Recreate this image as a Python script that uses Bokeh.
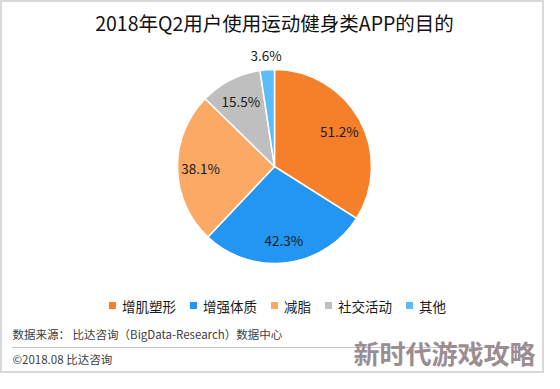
import math
from bokeh.plotting import figure
from bokeh.models import Range1d, ColumnDataSource
from bokeh.core.properties import value
from bokeh.embed import file_html
from bokeh.resources import INLINE

# ---- data ----
categories = ["增肌塑形", "增强体质", "减脂", "社交活动", "其他"]
values = [51.2, 42.3, 38.1, 15.5, 3.6]
colors = ["#F67F2A", "#2395F3", "#FBA964", "#BFBFBF", "#5DBBF7"]
title_text = "2018年Q2用户使用运动健身类APP的目的"
source_text = "数据来源： 比达咨询（BigData-Research）数据中心"
copyright_text = "©2018.08  比达咨询"
watermark_text = "新时代游戏攻略"

FONT = "Noto Sans CJK SC"
H = 389  # reference height; data y = H - page y

p = figure(width=544, height=373, output_backend="svg", toolbar_location=None,
           x_range=Range1d(8, 552), y_range=Range1d(8, 381), min_border=0)
p.axis.visible = False
p.grid.visible = False
p.outline_line_color = "#D9D9D9"
p.outline_line_width = 3
p.background_fill_color = "white"
p.border_fill_color = "white"

# ---- pie ----
cx, cy, R = 282, H - 174, 97
total = sum(values)
starts, ends, lx, ly, labels = [], [], [], [], []
cum = 0.0
for v in values:
    frac = v / total * 2 * math.pi
    s = math.pi / 2 - cum
    e = math.pi / 2 - cum - frac
    starts.append(s)
    ends.append(e)
    mid = math.pi / 2 - cum - frac / 2
    r = 74 if v / total > 0.05 else 112
    lx.append(cx + r * math.cos(mid))
    ly.append(cy + r * math.sin(mid))
    labels.append(f"{v:.1f}%")
    cum += frac

src = ColumnDataSource(dict(start=starts, end=ends, color=colors,
                            lx=lx, ly=ly, label=labels))
p.wedge(x=cx, y=cy, radius=R, start_angle="start", end_angle="end",
        direction="clock", fill_color="color", line_color="white",
        line_width=1.5, source=src)
p.text(x="lx", y="ly", text="label", source=src, text_align="center",
       text_baseline="middle", text_font=value(FONT),
       text_font_size="13.5px", text_color="#1a1a1a")

# ---- title ----
p.text(x=[282], y=[H - 30], text=[title_text], text_align="center",
       text_baseline="middle", text_font=value(FONT),
       text_font_size="19.5px", text_color="#111111")

# ---- legend ----
fs = 13.5
sq = 7
widths = [13 + len(c) * fs for c in categories]
tot_w = sum(widths) + 14 * (len(categories) - 1)
x0 = 285 - tot_w / 2
leg_y = H - 313
sqx, txx = [], []
x = x0
for w in widths:
    sqx.append(x + sq / 2)
    txx.append(x + 13)
    x += w + 14
p.rect(x=sqx, y=[leg_y] * len(sqx), width=sq, height=sq,
       fill_color=colors, line_color=None)
p.text(x=txx, y=[leg_y] * len(txx), text=categories, text_align="left",
       text_baseline="middle", text_font=value(FONT),
       text_font_size=f"{fs}px", text_color="#1a1a1a")

# ---- footer ----
p.text(x=[20], y=[H - 341], text=[source_text], text_align="left",
       text_baseline="middle", text_font=value(FONT),
       text_font_size="11.5px", text_color="#404040")
p.line(x=[20, 540], y=[H - 355, H - 355], line_color="#8C8C8C",
       line_width=1, line_dash="1 1")
p.text(x=[20], y=[H - 366], text=[copyright_text], text_align="left",
       text_baseline="middle", text_font=value(FONT),
       text_font_size="11.5px", text_color="#404040")
p.text(x=[543], y=[H - 360], text=[watermark_text], text_align="right",
       text_baseline="middle", text_font=value(FONT), text_font_style="bold",
       text_font_size="26px", text_color="#9B8E93")

open("out.html", "w").write(file_html(p, INLINE))
